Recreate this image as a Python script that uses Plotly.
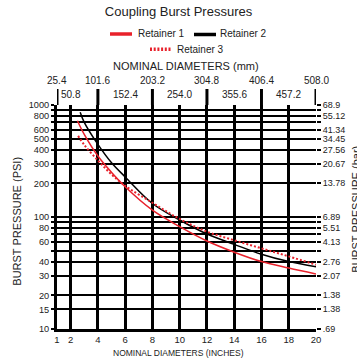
import numpy as np
import plotly.graph_objects as go

# Burst pressure (PSI) against nominal diameter (inches) for each retainer
r1_in = [2.5, 3, 4, 5, 6, 8, 10, 12, 14, 16, 18, 20]
r1_psi = [724, 546, 350, 250, 186, 115, 82, 61, 48.5, 40, 35, 31]
r2_in = [2.7, 3, 4, 5, 6, 8, 10, 12, 14, 16, 18, 20]
r2_psi = [860, 700, 445, 305, 228, 132, 94, 70.5, 57, 46.5, 40, 36]
r3_in = [2.55, 3, 4, 5, 6, 8, 10, 12, 14, 16, 18, 20]
r3_psi = [530, 440, 320, 240, 190, 134, 96, 74, 62, 52.5, 44.5, 37.5]

# Bottom axis: inches
inch_ticks = [1, 2, 4, 6, 8, 10, 12, 14, 16, 18, 20]
# Top axis: millimetres, in two staggered rows
mm_row1_in = [1, 4, 8, 12, 16, 20]
mm_row1_txt = ["25.4", "101.6", "203.2", "304.8", "406.4", "508.0"]
mm_row2_in = [2, 6, 10, 14, 18]
mm_row2_txt = ["50.8", "152.4", "254.0", "355.6", "457.2"]

# Pressure grid (PSI) and the labelled subset, with bar equivalents
psi_grid = [10, 15, 20, 30, 40, 50, 60, 70, 80, 90, 100,
            200, 300, 400, 500, 600, 700, 800, 900, 1000]
psi_labeled = [10, 15, 20, 30, 40, 60, 80, 100, 200, 300, 400, 500, 600, 800, 1000]
bar_labels = [".69", "1.38", "1.38", "2.07", "2.76", "4.13", "5.51", "6.89",
              "13.78", "20.67", "27.56", "34.45", "41.34", "55.12", "68.9"]

RED = "#e8212b"
INK = "#222222"
FONT = "Liberation Sans, Arial, sans-serif"

W, H = 357, 362
ML, MR, MT, MB = 57, 41, 105, 33
PW, PH = W - ML - MR, H - MT - MB
BOTTOM = H - MB


def px(X):
    return (X - ML) / PW


def py(Y):
    return (BOTTOM - Y) / PH


left_text = [str(v) if v in psi_labeled else "" for v in psi_grid]
bar_map = dict(zip(psi_labeled, bar_labels))
right_text = [bar_map.get(v, "") for v in psi_grid]

fig = go.Figure()
fig.add_trace(go.Scatter(x=r1_in, y=r1_psi, mode="lines", name="Retainer 1",
                         line=dict(color=RED, width=1.5, shape="spline", smoothing=1.0)))
fig.add_trace(go.Scatter(x=r2_in, y=r2_psi, mode="lines", name="Retainer 2",
                         line=dict(color="black", width=1.5, shape="spline", smoothing=1.0)))
fig.add_trace(go.Scatter(x=r3_in, y=r3_psi, mode="lines", name="Retainer 3",
                         line=dict(color=RED, width=2, dash="2px,2px", shape="spline", smoothing=1.0)))
# anchor trace for the bar axis
fig.add_trace(go.Scatter(x=[1], y=[10], yaxis="y2", mode="markers",
                         marker=dict(opacity=0), showlegend=False, hoverinfo="skip"))

shapes = []
# bars at every 4 inches (plus the left edge) rise into the mm scale
for v in mm_row1_in:
    shapes.append(dict(type="line", xref="x", yref="paper", x0=v, x1=v,
                       y0=1, y1=py(89), line=dict(color="black", width=3)))

# legend keys
shapes.append(dict(type="line", xref="paper", yref="paper", x0=px(110), x1=px(132),
                   y0=py(34), y1=py(34), line=dict(color=RED, width=3.5)))
shapes.append(dict(type="line", xref="paper", yref="paper", x0=px(194), x1=px(216),
                   y0=py(34.5), y1=py(34.5), line=dict(color="black", width=3.5)))
shapes.append(dict(type="line", xref="paper", yref="paper", x0=px(150), x1=px(172),
                   y0=py(49.3), y1=py(49.3), line=dict(color=RED, width=3.5, dash="2px,1.7px")))

ann = []
for v, t in zip(mm_row1_in, mm_row1_txt):
    ann.append(dict(x=v, xref="x", y=py(80), yref="paper", text=t, showarrow=False,
                    font=dict(size=10, color=INK), xanchor="center", yanchor="middle"))
for v, t in zip(mm_row2_in, mm_row2_txt):
    ann.append(dict(x=v, xref="x", y=py(95), yref="paper", text=t, showarrow=False,
                    font=dict(size=10, color=INK), xanchor="center", yanchor="middle"))

legend_items = [("Retainer 1", 136, 34), ("Retainer 2", 218, 33), ("Retainer 3", 175, 49)]
for t, X, Y in legend_items:
    ann.append(dict(x=px(X), xref="paper", y=py(Y), yref="paper", text=t, showarrow=False,
                    font=dict(size=10, color=INK), xanchor="left", yanchor="middle"))

ann.append(dict(x=px(186), xref="paper", y=py(66), yref="paper", text="NOMINAL DIAMETERS (mm)",
                showarrow=False, font=dict(size=11, color=INK), xanchor="center", yanchor="middle"))
ann.append(dict(x=px(178), xref="paper", y=py(353), yref="paper", text="NOMINAL DIAMETERS (INCHES)",
                showarrow=False, font=dict(size=8.5, color=INK), xanchor="center", yanchor="middle"))
ann.append(dict(x=px(16.7), xref="paper", y=py(221), yref="paper", text="BURST PRESSURE (PSI)",
                showarrow=False, textangle=-90, font=dict(size=11, color=INK),
                xanchor="center", yanchor="middle"))
ann.append(dict(x=px(355.7), xref="paper", y=py(209), yref="paper", text="BURST PRESSURE (bar)",
                showarrow=False, textangle=-90, font=dict(size=11, color=INK),
                xanchor="center", yanchor="middle"))

fig.update_layout(
    width=W, height=H,
    margin=dict(l=ML, r=MR, t=MT, b=MB, pad=0),
    paper_bgcolor="white", plot_bgcolor="white",
    font=dict(family=FONT, color=INK),
    showlegend=False,
    title=dict(text="Coupling Burst Pressures", x=0.5, xref="container", xanchor="center",
               y=1 - 11 / H, yref="container", yanchor="middle",
               font=dict(size=13, color=INK)),
    xaxis=dict(range=[1, 20], tickvals=inch_ticks, ticktext=[str(v) for v in inch_ticks],
               showgrid=True, gridcolor="black", gridwidth=3, zeroline=False,
               showline=True, linecolor="black", linewidth=3, ticks="",
               tickfont=dict(size=9.5, color=INK), fixedrange=True),
    yaxis=dict(type="log", range=[1, 3], tickvals=psi_grid, ticktext=left_text,
               showgrid=True, gridcolor="black", gridwidth=2, zeroline=False,
               showline=True, linecolor="black", linewidth=3,
               ticks="outside", ticklen=3, tickwidth=2, tickcolor="black",
               tickfont=dict(size=9.2, color=INK), fixedrange=True),
    yaxis2=dict(type="log", range=[1, 3], overlaying="y", side="right",
                tickvals=psi_grid, ticktext=right_text, showgrid=False, zeroline=False,
                showline=False, ticks="outside", ticklen=4, tickwidth=2, tickcolor="black",
                tickfont=dict(size=9, color=INK), fixedrange=True),
    shapes=shapes,
    annotations=ann,
)

fig.write_html("out.html")
